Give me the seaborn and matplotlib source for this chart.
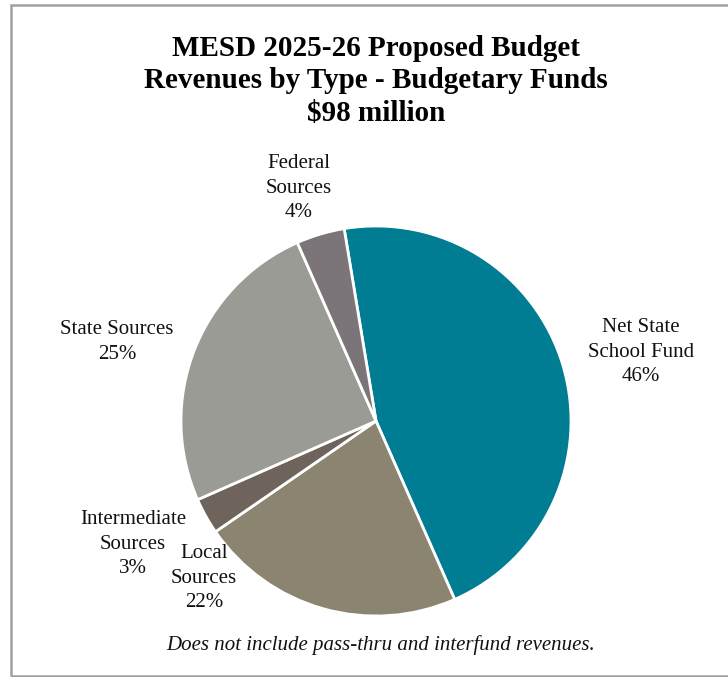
import matplotlib
matplotlib.use("Agg")
import matplotlib.pyplot as plt
from matplotlib.patches import Rectangle
import seaborn as sns

# Data (clockwise from top)
categories = ["Net State\nSchool Fund", "Local\nSources", "Intermediate\nSources",
              "State Sources", "Federal\nSources"]
shares = [46, 22, 3, 25, 4]
colors = ["#007C93", "#8B8470", "#6F645B", "#9B9B95", "#7B7579"]
# label anchor positions in pie-radius units
label_pos = [(1.359, 0.364), (-0.882, -0.795), (-1.246, -0.621),
             (-1.328, 0.415), (-0.395, 1.205)]

sns.set_theme(style="white")
plt.rcParams["font.family"] = ["Liberation Serif", "DejaVu Serif"]

fig = plt.figure(figsize=(7.28, 6.77), dpi=100)
W, H = 728, 677
cx, cy, R = 376, 421, 195
ax = fig.add_axes([(cx - R) / W, (H - cy - R) / H, 2 * R / W, 2 * R / H])
ax.pie(shares, colors=colors, startangle=99.4, counterclock=False, radius=1,
       wedgeprops=dict(edgecolor="white", linewidth=2))
ax.set_xlim(-1, 1)
ax.set_ylim(-1, 1)
ax.set_aspect("equal")
ax.axis("off")

step = 24.8 / R  # line step in pie units
shift = -2.0 / R  # small downward nudge
for cat, s, (x, y) in zip(categories, shares, label_pos):
    lines = cat.split("\n") + [f"{s}%"]
    n = len(lines)
    for i, ln in enumerate(lines):
        yy = y + shift + ((n - 1) / 2 - i) * step
        ax.text(x, yy, ln, ha="center", va="center", fontsize=15,
                color="#111111", clip_on=False)

fig.text(cx / W, 1 - 81 / H,
         "MESD 2025-26 Proposed Budget\nRevenues by Type - Budgetary Funds\n$98 million",
         ha="center", va="center", fontsize=21, fontweight="bold", linespacing=1.28,
         color="black")
fig.text(381 / W, 1 - 645 / H, "Does not include pass-thru and interfund revenues.",
         ha="center", va="center", fontsize=15, style="italic", color="#111111")

fig.patches.append(Rectangle((10.5 / W, 1.0 / H), 1.0, (H - 5.5) / H,
                             transform=fig.transFigure, fill=False,
                             edgecolor="#A0A0A0", linewidth=1.8))

fig.savefig("out.png", dpi=100)
